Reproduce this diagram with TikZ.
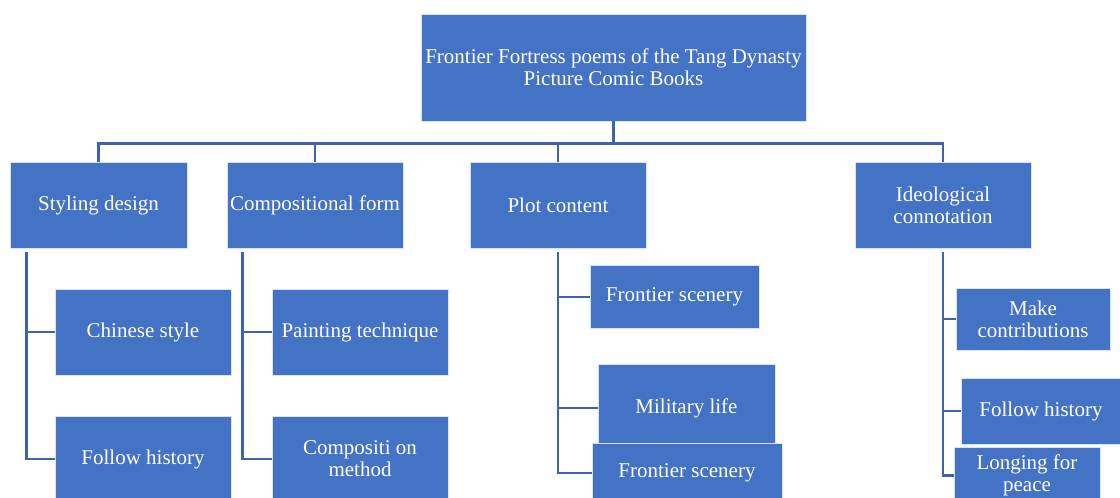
\documentclass[tikz,border=0pt]{standalone}
\usepackage{fontspec}
\setmainfont{Liberation Serif}
\usetikzlibrary{positioning}
\definecolor{boxblue}{HTML}{4472C4}
\definecolor{lineblue}{HTML}{3C63AC}

\begin{document}
\begin{tikzpicture}[x=1pt,y=-1pt,
  box/.style={draw=white!80!boxblue, line width=0.7pt, fill=boxblue, text=white, align=center,
    inner sep=0pt, font=\fontsize{21}{22}\selectfont},
  link/.style={draw=lineblue, line width=2.8pt}]
\useasboundingbox (0,0) rectangle (1120,498);
\clip (0,0) rectangle (1120,498);

\node[box, minimum width=385pt, minimum height=107pt] (root) at (613.5,67.5)
  {Frontier Fortress poems of the Tang Dynasty\\Picture Comic Books};

% first level
\node[box, minimum width=177pt, minimum height=86pt] (sty) at (98.5,205) {Styling design};
\node[box, minimum width=176pt, minimum height=86pt] (cmp) at (315,205) {Compositional form};
\node[box, minimum width=176pt, minimum height=86pt] (plt) at (558,205) {Plot content};
\node[box, minimum width=176pt, minimum height=86pt] (ide) at (943,205) {Ideological\\connotation};

% second level
\node[box, minimum width=176pt, minimum height=86pt] (chs) at (143,332) {Chinese style};
\node[box, minimum width=176pt, minimum height=86pt] (flh) at (143,459) {Follow history};
\node[box, minimum width=176pt, minimum height=86pt] (pnt) at (360,332) {Painting technique};
\node[box, minimum width=176pt, minimum height=86pt] (cmt) at (360,459) {Compositi on\\method};

\node[box, minimum width=169pt, minimum height=63pt] (fs1) at (674.5,297) {Frontier scenery};
\node[box, minimum width=177pt, minimum height=88pt] (mil) at (686.5,408) {Military life};
\node[box, minimum width=190pt, minimum height=60pt] (fs2) at (687,473) {Frontier scenery};

\node[box, minimum width=154pt, minimum height=62pt] (mkc) at (1033,319) {Make\\contributions};
\node[box, minimum width=160pt, minimum height=66pt] (flh2) at (1041,411) {Follow history};
\node[box, minimum width=146pt, minimum height=57pt] (lfp) at (1027,475.5) {Longing for\\peace};

\foreach \n in {sty,cmp,plt,ide}
  \draw[link] (root.south) -- ++(0,22) -| (\n.north);

\foreach \c in {chs,flh}
  \draw[link] ([xshift=17pt,yshift=-4pt]sty.south west) |- (\c.west);
\foreach \c in {pnt,cmt}
  \draw[link] ([xshift=16pt,yshift=-4pt]cmp.south west) |- (\c.west);
\foreach \c in {fs1,mil,fs2}
  \draw[link] ([yshift=-4pt]plt.south) |- (\c.west);
\foreach \c in {mkc,flh2,lfp}
  \draw[link] ([yshift=-4pt]ide.south) |- (\c.west);
\end{tikzpicture}
\end{document}
